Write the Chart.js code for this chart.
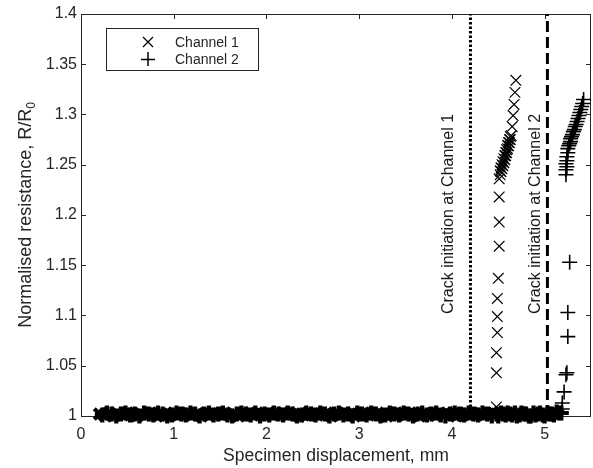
<!DOCTYPE html>
<html lang="en">
<head>
<meta charset="UTF-8">
<title>Normalised resistance vs displacement</title>
<script src="https://cdn.jsdelivr.net/npm/chart.js"></script>
<style>
  body { margin: 0; background: #fff; }
  canvas { display: block; }
</style>
</head>
<body>
<canvas id="myChart" width="593" height="468"></canvas>
<script>
const xTicks = [0, 1, 2, 3, 4, 5]
const yTicks = [1, 1.05, 1.1, 1.15, 1.2, 1.25, 1.3, 1.35, 1.4]
const yTickLabels = ['1', '1.05', '1.1', '1.15', '1.2', '1.25', '1.3', '1.35', '1.4']

const seriesNames = ['Channel 1', 'Channel 2']
const crackX = [4.2, 5.03]
const crackLabels = ['Crack initiation at Channel 1', 'Crack initiation at Channel 2']

// channel 1: flat band, then the jump near 4.5 mm
const ch1X = [
  0.20,0.25,0.30,0.35,0.40,0.45,0.50,0.55,0.60,0.65,0.70,0.75,0.80,0.85,0.90,0.95,1.00,1.05,1.10,1.15,
  1.20,1.25,1.30,1.35,1.40,1.45,1.50,1.55,1.60,1.65,1.70,1.75,1.80,1.85,1.90,1.95,2.00,2.05,2.10,2.15,
  2.20,2.25,2.30,2.35,2.40,2.45,2.50,2.55,2.60,2.65,2.70,2.75,2.80,2.85,2.90,2.95,3.00,3.05,3.10,3.15,
  3.20,3.25,3.30,3.35,3.40,3.45,3.50,3.55,3.60,3.65,3.70,3.75,3.80,3.85,3.90,3.95,4.00,4.05,4.10,4.15,
  4.20,4.25,4.30,4.35,4.40,4.45,
  4.48,4.48,4.48,4.49,4.49,4.49,4.50,4.51,4.51,4.51,4.51,
  4.52,4.52,4.53,4.53,4.54,4.54,4.55,4.55,4.56,4.56,4.57,4.57,4.58,4.58,4.59,4.59,4.60,4.60,4.61,4.61,4.62,4.62,4.63,4.63,4.64,
  4.65,4.66,4.67,4.68,4.69]
const ch1Y = [
  1.002,1.001,1.003,1.000,1.002,1.001,1.003,1.002,1.000,1.002,1.001,1.003,1.002,1.001,1.000,1.002,1.003,1.001,1.002,1.003,
  1.001,1.002,1.000,1.003,1.002,1.001,1.002,1.003,1.001,1.002,1.000,1.003,1.002,1.001,1.003,1.002,1.001,1.002,1.003,1.001,
  1.002,1.003,1.002,1.000,1.001,1.003,1.002,1.001,1.002,1.003,1.000,1.002,1.001,1.003,1.002,1.000,1.002,1.003,1.001,1.002,
  1.003,1.001,1.000,1.002,1.003,1.002,1.001,1.003,1.002,1.000,1.002,1.001,1.003,1.002,1.001,1.003,1.002,1.000,1.002,1.003,
  1.001,1.002,1.003,1.001,1.002,1.003,
  1.009,1.043,1.063,1.083,1.099,1.117,1.137,1.169,1.193,1.218,1.236,
  1.240,1.244,1.243,1.247,1.246,1.250,1.249,1.253,1.252,1.256,1.255,1.259,1.259,1.262,1.262,1.265,1.266,1.269,1.269,1.272,1.272,1.275,1.275,1.278,1.279,
  1.288,1.299,1.310,1.322,1.334]

// channel 2: flat band up to ~5.15 mm, then the jump near 5.2 mm
const ch2X = [
  0.23,0.28,0.33,0.38,0.43,0.48,0.53,0.58,0.63,0.68,0.73,0.78,0.83,0.88,0.93,0.98,1.03,1.08,1.13,1.18,
  1.23,1.28,1.33,1.38,1.43,1.48,1.53,1.58,1.63,1.68,1.73,1.78,1.83,1.88,1.93,1.98,2.03,2.08,2.13,2.18,
  2.23,2.28,2.33,2.38,2.43,2.48,2.53,2.58,2.63,2.68,2.73,2.78,2.83,2.88,2.93,2.98,3.03,3.08,3.13,3.18,
  3.23,3.28,3.33,3.38,3.43,3.48,3.53,3.58,3.63,3.68,3.73,3.78,3.83,3.88,3.93,3.98,4.03,4.08,4.13,4.18,
  4.23,4.28,4.33,4.38,4.43,4.48,4.53,4.58,4.63,4.68,4.73,4.78,4.83,4.88,4.93,4.98,5.03,5.08,5.13,5.18,
  4.50,4.55,4.60,4.65,4.70,4.75,4.80,4.85,4.90,4.95,5.00,5.05,5.10,5.15,
  5.19,5.19,5.21,5.23,5.24,5.25,5.25,5.27,
  5.23,5.23,5.24,5.23,5.24,5.24,5.25,
  5.25,5.26,5.27,5.28,5.28,5.29,5.30,5.31,5.32,5.33,5.34,5.35,5.36,5.37,5.38,5.39,5.40,5.41,5.42]
const ch2Y = [
  1.001,1.003,1.002,1.000,1.002,1.003,1.001,1.002,1.000,1.003,1.002,1.001,1.003,1.002,1.000,1.001,1.003,1.002,1.001,1.003,
  1.002,1.000,1.002,1.003,1.001,1.002,1.003,1.001,1.000,1.002,1.003,1.002,1.001,1.003,1.000,1.002,1.001,1.003,1.002,1.001,
  1.003,1.002,1.000,1.001,1.003,1.002,1.001,1.003,1.002,1.000,1.002,1.003,1.001,1.002,1.000,1.003,1.002,1.001,1.003,1.002,
  1.000,1.001,1.003,1.002,1.001,1.003,1.002,1.000,1.002,1.003,1.001,1.002,1.003,1.001,1.000,1.002,1.003,1.002,1.001,1.003,
  1.002,1.001,1.003,1.002,1.000,1.002,1.003,1.001,1.002,1.003,1.001,1.002,1.000,1.003,1.002,1.001,1.003,1.002,1.004,1.003,
  1.000,1.002,1.003,1.001,1.000,1.003,1.002,1.000,1.001,1.003,1.000,1.002,1.001,1.003,
  1.007,1.013,1.024,1.041,1.043,1.079,1.103,1.153,
  1.240,1.245,1.248,1.251,1.254,1.258,1.262,
  1.266,1.269,1.271,1.273,1.276,1.278,1.280,1.283,1.285,1.288,1.290,1.293,1.296,1.299,1.302,1.305,1.308,1.311,1.315]

const FONT = '"Liberation Sans", Arial, Helvetica, sans-serif'
const INK = '#262626'

const toPoints = (xs, ys) => xs.map((v, i) => ({ x: v, y: ys[i] }))

// box, inward ticks, legend, labels
const decorations = {
  id: 'decorations',
  beforeDatasetsDraw(chart) {
    const { ctx, chartArea: a, scales: { x, y } } = chart
    ctx.save()
    ctx.strokeStyle = INK
    ctx.lineWidth = 1
    ctx.strokeRect(a.left + 0.5, a.top + 0.5, a.right - a.left - 1, a.bottom - a.top)
    ctx.beginPath()
    xTicks.forEach(v => {
      const px = Math.round(x.getPixelForValue(v)) + 0.5
      ctx.moveTo(px, a.bottom); ctx.lineTo(px, a.bottom - 5)
      ctx.moveTo(px, a.top); ctx.lineTo(px, a.top + 5)
    })
    yTicks.forEach(v => {
      const py = Math.round(y.getPixelForValue(v)) + 0.5
      ctx.moveTo(a.left, py); ctx.lineTo(a.left + 5, py)
      ctx.moveTo(a.right, py); ctx.lineTo(a.right - 5, py)
    })
    ctx.stroke()
    ctx.restore()
  },
  afterDraw(chart) {
    const { ctx, chartArea: a, scales: { x, y } } = chart
    ctx.save()
    ctx.fillStyle = INK

    // x title
    ctx.font = '17.6px ' + FONT
    ctx.textAlign = 'center'
    ctx.textBaseline = 'alphabetic'
    ctx.fillText('Specimen displacement, mm', (a.left + a.right) / 2, 461)

    // y title with subscript
    ctx.save()
    ctx.translate(31, (a.top + a.bottom) / 2)
    ctx.rotate(-Math.PI / 2)
    const main = 'Normalised resistance, R/R'
    ctx.font = '18px ' + FONT
    const w1 = ctx.measureText(main).width
    ctx.font = '12px ' + FONT
    const w2 = ctx.measureText('0').width
    const start = -(w1 + w2) / 2
    ctx.textAlign = 'left'
    ctx.font = '18px ' + FONT
    ctx.fillText(main, start, 0)
    ctx.font = '12px ' + FONT
    ctx.fillText('0', start + w1, 4)
    ctx.restore()

    // crack labels
    const offsets = [17, 7]
    crackLabels.forEach((t, i) => {
      ctx.save()
      ctx.translate(x.getPixelForValue(crackX[i]) - offsets[i], 214)
      ctx.rotate(-Math.PI / 2)
      ctx.font = '16px ' + FONT
      ctx.textAlign = 'center'
      ctx.fillStyle = '#1a1a1a'
      ctx.fillText(t, 0, 0)
      ctx.restore()
    })

    // legend
    ctx.fillStyle = '#fff'
    ctx.fillRect(106, 28, 152, 43)
    ctx.strokeStyle = INK
    ctx.lineWidth = 1
    ctx.strokeRect(106.5, 28.5, 152, 42)
    ctx.strokeStyle = '#000'
    ctx.lineWidth = 1.3
    ctx.beginPath()
    ctx.moveTo(143, 37); ctx.lineTo(153, 47)
    ctx.moveTo(153, 37); ctx.lineTo(143, 47)
    ctx.stroke()
    ctx.lineWidth = 1.5
    ctx.beginPath()
    ctx.moveTo(141, 59.5); ctx.lineTo(155, 59.5)
    ctx.moveTo(148, 52); ctx.lineTo(148, 66)
    ctx.stroke()
    ctx.fillStyle = INK
    ctx.font = '14px ' + FONT
    ctx.textAlign = 'left'
    ctx.fillText(seriesNames[0], 175, 47)
    ctx.fillText(seriesNames[1], 175, 64)
    ctx.restore()
  }
}

new Chart(document.getElementById('myChart'), {
  type: 'scatter',
  data: {
    datasets: [
      {
        label: seriesNames[0],
        data: toPoints(ch1X, ch1Y),
        pointStyle: 'crossRot',
        pointRadius: 7.5,
        borderColor: '#000',
        backgroundColor: '#000',
        pointBorderWidth: c => (c.raw && c.raw.y < 1.006 ? 4.2 : 1.2),
        clip: false
      },
      {
        label: seriesNames[1],
        data: toPoints(ch2X, ch2Y),
        pointStyle: 'cross',
        pointRadius: 7.5,
        borderColor: '#000',
        backgroundColor: '#000',
        pointBorderWidth: c => (c.raw && c.raw.y < 1.006 ? 4.2 : 1.6),
        clip: false
      },
      {
        label: crackLabels[0],
        data: [{ x: crackX[0], y: 1 }, { x: crackX[0], y: 1.4 }],
        showLine: true,
        pointRadius: 0,
        borderColor: '#000',
        borderWidth: 3,
        borderDash: [2.5, 2],
        order: 5
      },
      {
        label: crackLabels[1],
        data: [{ x: crackX[1], y: 1 }, { x: crackX[1], y: 1.4 }],
        showLine: true,
        pointRadius: 0,
        borderColor: '#000',
        borderWidth: 3,
        borderDash: [11, 5],
        order: 5
      }
    ]
  },
  options: {
    responsive: false,
    animation: false,
    devicePixelRatio: 1,
    events: [],
    layout: { autoPadding: false, padding: { top: 14, right: 2, left: 0, bottom: 0 } },
    plugins: { legend: { display: false }, tooltip: { enabled: false } },
    scales: {
      x: {
        type: 'linear',
        min: 0,
        max: 5.5,
        afterBuildTicks: s => { s.ticks = xTicks.map(v => ({ value: v })) },
        afterFit: s => { s.height = 52; s.paddingRight = 0; s.paddingLeft = 0 },
        grid: { display: false, drawTicks: false },
        border: { display: false },
        ticks: {
          autoSkip: false,
          maxRotation: 0,
          padding: 9,
          color: INK,
          font: { family: FONT, size: 16 },
          callback: v => String(v)
        }
      },
      y: {
        type: 'linear',
        min: 1,
        max: 1.4,
        afterBuildTicks: s => { s.ticks = yTicks.map(v => ({ value: v })) },
        afterFit: s => { s.width = 81 },
        grid: { display: false, drawTicks: false },
        border: { display: false },
        ticks: {
          autoSkip: false,
          padding: 4,
          color: INK,
          font: { family: FONT, size: 16 },
          callback: v => yTickLabels[yTicks.indexOf(v)]
        }
      }
    }
  },
  plugins: [decorations]
})
</script>
</body>
</html>
